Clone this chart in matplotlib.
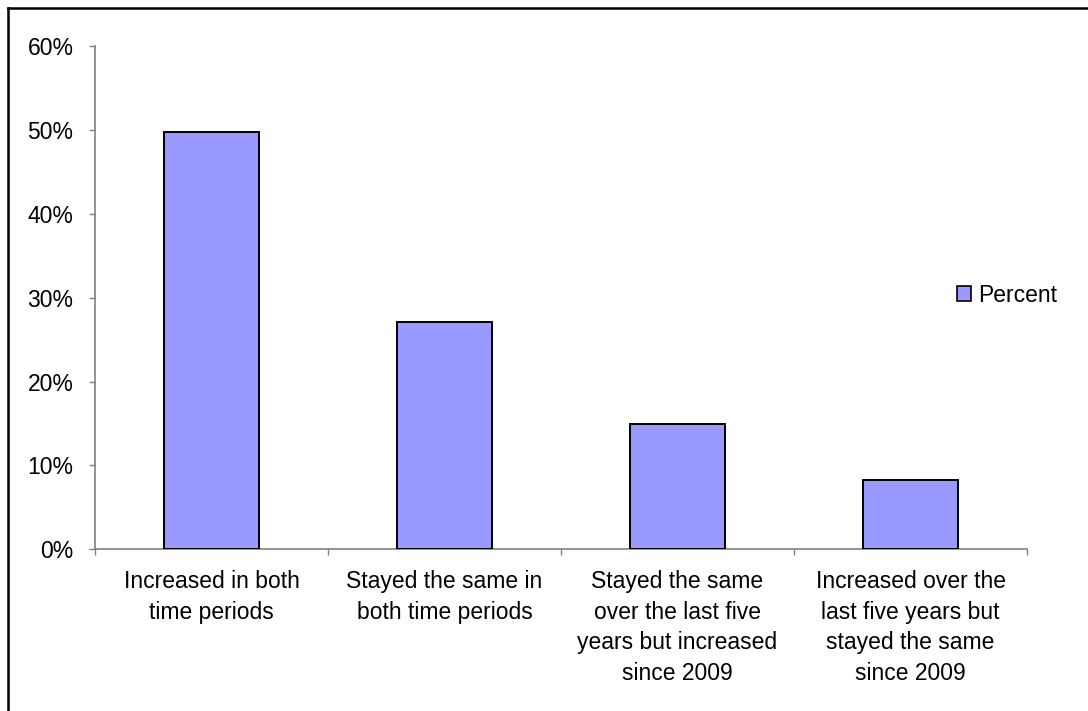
import matplotlib
matplotlib.use("Agg")
import matplotlib.pyplot as plt
from matplotlib.lines import Line2D
from matplotlib.patches import Patch
from matplotlib.ticker import PercentFormatter

categories = [
    "Increased in both\ntime periods",
    "Stayed the same in\nboth time periods",
    "Stayed the same\nover the last five\nyears but increased\nsince 2009",
    "Increased over the\nlast five years but\nstayed the same\nsince 2009",
]
percent = [49.7, 27.1, 14.9, 8.3]
y_ticks = [0, 10, 20, 30, 40, 50, 60]
series_name = "Percent"

W, H = 1088, 711
FS = 16.5
plt.rcParams["font.family"] = ["Liberation Sans", "DejaVu Sans"]
fig = plt.figure(figsize=(W / 100, H / 100), dpi=100)
ax = fig.add_axes([95 / W, 1 - 549.3 / H, (1027 - 95) / W, (549.3 - 46) / H])

x = list(range(len(categories)))
ax.bar(x, percent, width=0.41, color="#9999FF", edgecolor="black", linewidth=1.4, zorder=3)

ax.set_xlim(-0.5, len(categories) - 0.5)
ax.set_ylim(0, 60)
ax.set_yticks(y_ticks)
ax.yaxis.set_major_formatter(PercentFormatter(decimals=0))

# category boundaries carry the tick marks, labels sit at bar centres
ax.set_xticks([i - 0.5 for i in range(len(categories) + 1)])
ax.set_xticklabels([])
ax.set_xticks(x, minor=True)
ax.set_xticklabels(categories, minor=True, fontsize=FS, linespacing=1.42)
ax.tick_params(axis="x", which="minor", length=0, pad=15)
ax.tick_params(axis="x", which="major", length=4.5, width=1, color="#808080", direction="out")
ax.tick_params(axis="y", length=4.5, width=1, color="#808080", direction="out", labelsize=FS, pad=11)

for side in ("top", "right"):
    ax.spines[side].set_visible(False)
for side in ("left", "bottom"):
    ax.spines[side].set_color("#808080")
    ax.spines[side].set_linewidth(1.2)

handle = Patch(facecolor="#9999FF", edgecolor="black", linewidth=1.2)
fig.legend([handle], [series_name], loc="center left",
           bbox_to_anchor=(957 / W, 1 - 295 / H), frameon=False, fontsize=FS,
           handlelength=0.62, handleheight=0.62, handletextpad=0.32,
           borderpad=0, borderaxespad=0)

# outer chart frame
fig.add_artist(Line2D([7.5 / W, 1.01], [1 - 7.5 / H, 1 - 7.5 / H], transform=fig.transFigure,
                      color="black", linewidth=1.8))
fig.add_artist(Line2D([7.5 / W, 7.5 / W], [1 - 7.5 / H, -0.01], transform=fig.transFigure,
                      color="black", linewidth=1.8))

fig.savefig("out.png", dpi=100, facecolor="white")
